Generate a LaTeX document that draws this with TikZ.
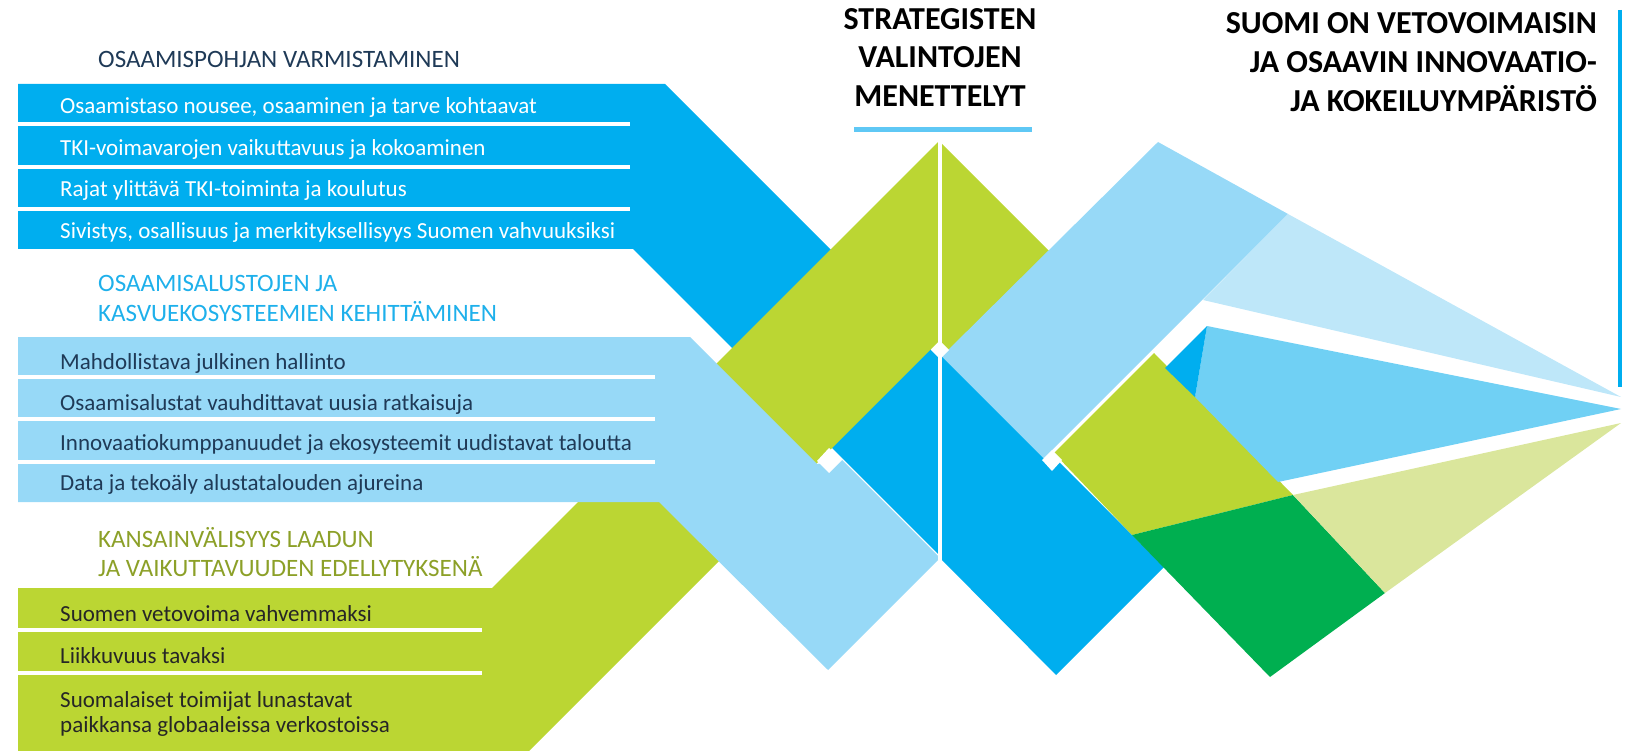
\documentclass[tikz,border=0pt]{standalone}
\usepackage{fontspec}
\setmainfont{Carlito}
\definecolor{bandblue}{RGB}{0,174,239}
\definecolor{bandlight}{RGB}{151,217,247}
\definecolor{bandgreen}{RGB}{187,214,51}
\definecolor{darkgreen}{RGB}{0,175,80}
\definecolor{fanblue}{RGB}{190,231,249}
\definecolor{fanmid}{RGB}{112,208,244}
\definecolor{fangreen}{RGB}{218,230,156}
\definecolor{navytext}{RGB}{31,58,87}
\definecolor{headblue}{RGB}{30,176,235}
\definecolor{headolive}{RGB}{140,160,40}
\definecolor{underblue}{RGB}{95,200,245}
\tikzset{
  rowtext/.style={anchor=base west, inner sep=0pt, font=\fontsize{23}{25}\selectfont},
  headtext/.style={anchor=base west, inner sep=0pt, font=\fontsize{25}{29}\selectfont},
  titletext/.style={inner sep=0pt, font=\bfseries\fontsize{32}{38}\selectfont},
  rowline/.style={white, line width=3.5pt},
}
\begin{document}
\begin{tikzpicture}[x=1pt,y=-1pt]
    \useasboundingbox (0,0) rectangle (1632,751);

    % left bands
    \fill[bandblue] (18,84) -- (665,84) -- (940,359) -- (940,556) -- (633,249) -- (18,249) -- cycle;
    \fill[bandgreen] (18,588) -- (492,588) -- (940,140) -- (940,340) -- (529,751) -- (18,751) -- cycle;
    \fill[bandlight] (18,337) -- (690,337) -- (817,464) -- (842,460) -- (940,558) -- (828,670) -- (659,502) -- (18,502) -- cycle;

    % right side
    \fill[bandgreen] (940,142) -- (1050,252) -- (940,362) -- cycle;
    \fill[bandlight] (941,357) -- (1158,142) -- (1288,214) -- (1043,459) -- cycle;
    \fill[bandblue] (941,356) -- (1044,459) -- (1058,461) -- (1164,567) -- (1056,675) -- (941,559) -- cycle;
    \fill[bandgreen] (1054,453) -- (1154,353) -- (1293,495) -- (1132,535) -- cycle;
    \fill[darkgreen] (1132,535) -- (1293,495) -- (1385,593) -- (1270,677) -- cycle;
    \fill[fanblue] (1288,214) -- (1621,397) -- (1203,300) -- cycle;
    \fill[fanmid] (1207,326) -- (1621,409) -- (1278,482) -- (1195,397) -- cycle;
    \fill[bandblue] (1207,326) -- (1195,397) -- (1165,368) -- cycle;
    \fill[fangreen] (1293,495) -- (1621,423) -- (1385,593) -- cycle;

    % white cuts
    \fill[white] (829,448) -- (842,460) -- (829,473) -- (817,461) -- cycle;
    \fill[white] (940,341) -- (949,350) -- (940,359) -- (931,350) -- cycle;
    \fill[white] (1052,450) -- (1062,460) -- (1052,471) -- (1042,460) -- cycle;
    \draw[white, line width=3.5pt] (940,138) -- (940,560);

    % row lines
    \draw[rowline] (18,124) -- (630,124);
    \draw[rowline] (18,167) -- (630,167);
    \draw[rowline] (18,209) -- (630,209);
    \draw[rowline] (18,377) -- (655,377);
    \draw[rowline] (18,419) -- (655,419);
    \draw[rowline] (18,462) -- (655,462);
    \draw[rowline] (18,630) -- (482,630);
    \draw[rowline] (18,673) -- (482,673);

    % headings
    \node[headtext, navytext] (h1) at (98,68) {OSAAMISPOHJAN VARMISTAMINEN};
    \node[headtext, headblue] (h2a) at (98,291) {OSAAMISALUSTOJEN JA};
    \node[headtext, headblue] (h2b) at (98,321) {KASVUEKOSYSTEEMIEN KEHITTÄMINEN};
    \node[headtext, headolive] (h3a) at (98,547) {KANSAINVÄLISYYS LAADUN};
    \node[headtext, headolive] (h3b) at (98,576) {JA VAIKUTTAVUUDEN EDELLYTYKSENÄ};

    % rows
    \node[rowtext, white] (r1) at (60,114) {Osaamistaso nousee, osaaminen ja tarve kohtaavat};
    \node[rowtext, white] (r2) at (60,156) {TKI-voimavarojen vaikuttavuus ja kokoaminen};
    \node[rowtext, white] (r3) at (60,197) {Rajat ylittävä TKI-toiminta ja koulutus};
    \node[rowtext, white] (r4) at (60,239) {Sivistys, osallisuus ja merkityksellisyys Suomen vahvuuksiksi};
    \node[rowtext, navytext] (m1) at (60,369) {Mahdollistava julkinen hallinto};
    \node[rowtext, navytext] (m2) at (60,410) {Osaamisalustat vauhdittavat uusia ratkaisuja};
    \node[rowtext, navytext] (m3) at (60,450) {Innovaatiokumppanuudet ja ekosysteemit uudistavat taloutta};
    \node[rowtext, navytext] (m4) at (60,490) {Data ja tekoäly alustatalouden ajureina};
    \node[rowtext, black!85] (g1) at (60,621) {Suomen vetovoima vahvemmaksi};
    \node[rowtext, black!85] (g2) at (60,663) {Liikkuvuus tavaksi};
    \node[rowtext, black!85] (g3) at (60,707) {Suomalaiset toimijat lunastavat};
    \node[rowtext, black!85] (g4) at (60,732) {paikkansa globaaleissa verkostoissa};

    % titles
    \node[titletext, anchor=base] (s1) at (940,30) {STRATEGISTEN};
    \node[titletext, anchor=base] (s2) at (940,68) {VALINTOJEN};
    \node[titletext, anchor=base] (s3) at (940,107) {MENETTELYT};
    \draw[underblue, line width=5pt] (854,130) -- (1032,130);
    \node[titletext, anchor=base east] (v1) at (1597,34) {SUOMI ON VETOVOIMAISIN};
    \node[titletext, anchor=base east] (v2) at (1597,73) {JA OSAAVIN INNOVAATIO-};
    \node[titletext, anchor=base east] (v3) at (1597,112) {JA KOKEILUYMPÄRISTÖ};
    \draw[bandblue, line width=3.5pt] (1620,10) -- (1620,387);
\end{tikzpicture}
\end{document}
